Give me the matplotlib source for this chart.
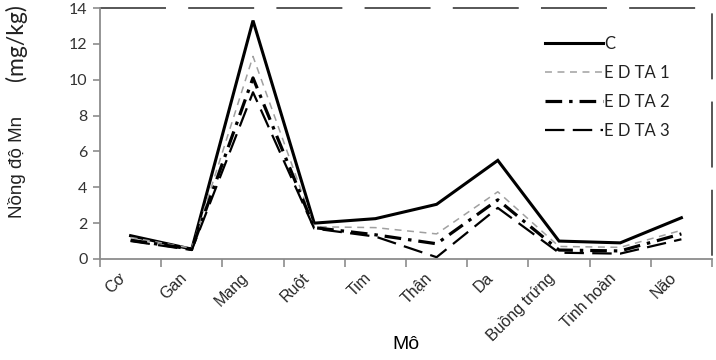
import matplotlib
matplotlib.use("Agg")
import matplotlib.pyplot as plt
import matplotlib.transforms as mtransforms
import numpy as np

# Dữ liệu
mo = ["Cơ", "Gan", "Mang", "Ruột", "Tim", "Thận", "Da", "Buồng trứng", "Tinh hoàn", "Não"]
c_vals = [1.3, 0.55, 13.3, 2.0, 2.25, 3.05, 5.5, 1.0, 0.9, 2.3]
edta1_vals = [1.2, 0.6, 11.3, 1.8, 1.75, 1.4, 3.75, 0.7, 0.65, 1.6]
edta2_vals = [1.05, 0.55, 10.1, 1.75, 1.35, 0.85, 3.3, 0.5, 0.45, 1.4]
edta3_vals = [1.0, 0.5, 9.3, 1.7, 1.25, 0.1, 2.85, 0.35, 0.3, 1.1]
y_ticks = [0, 2, 4, 6, 8, 10, 12, 14]

plt.rcParams['lines.scale_dashes'] = False

fig = plt.figure(figsize=(7.16, 3.6), dpi=100)
ax = fig.add_axes([100 / 716, 101 / 360, 612 / 716, 251 / 360])

x = np.arange(len(mo))
ax.plot(x, c_vals, color="black", lw=2.2, label="C", solid_joinstyle="miter")
ax.plot(x, edta1_vals, color="#a0a0a0", lw=1.1, dashes=(5, 4), label="E D TA 1")
ax.plot(x, edta2_vals, color="black", lw=2.3, dashes=(12, 5, 2.5, 5), label="E D TA 2")
ax.plot(x, edta3_vals, color="black", lw=1.6, dashes=(14, 6), label="E D TA 3")

ax.set_xlim(-0.5, len(mo) - 0.5)
ax.set_ylim(0, 14)
ax.set_yticks(y_ticks)

# vạch chia ở ranh giới, nhãn ở giữa
ax.set_xticks(np.arange(-0.5, len(mo), 1.0))
ax.set_xticklabels([])
ax.set_xticks(x, minor=True)
ax.set_xticklabels(mo, minor=True, rotation=45, ha="right", va="center",
                   rotation_mode="anchor", fontsize=11.5, family="Liberation Sans", color="#262626")
ax.tick_params(axis="x", which="minor", length=0, pad=12)
ax.tick_params(axis="x", which="major", length=6, color="#8c8c8c", width=1.2, direction="out")
offset = mtransforms.ScaledTranslation(-0.07, 0, fig.dpi_scale_trans)
for lab in ax.get_xticklabels(minor=True):
    lab.set_transform(lab.get_transform() + offset)

ax.tick_params(axis="y", length=5, color="#8c8c8c", width=1.2, labelsize=11.5,
               labelcolor="#333333", pad=4)
for lab in ax.get_yticklabels():
    lab.set_family("Lato")

for side in ["top", "right"]:
    ax.spines[side].set_visible(False)
for side in ["left", "bottom"]:
    ax.spines[side].set_color("#8c8c8c")
    ax.spines[side].set_linewidth(1.3)

# viền trên và phải nét đứt
ax.plot([0, 1, 1], [1, 1, 0], transform=ax.transAxes, color="#3a3a3a", lw=1.2,
        dashes=(47.5, 16), clip_on=False)

ax.set_xlabel("Mô", fontsize=14, family="Liberation Sans", labelpad=-6)
fig.text(17 / 716, (360 - 218) / 360, "Nồng độ Mn", rotation=90,
         ha="center", va="bottom", fontsize=13.5, family="Liberation Sans", color="#222222")
fig.text(16 / 716, (360 - 81) / 360, "(mg/kg)", rotation=90,
         ha="center", va="bottom", fontsize=16.5, family="Lato", color="#222222")

leg = ax.legend(loc="upper left", bbox_to_anchor=(0.727, 0.89), frameon=False,
                handlelength=3.5, handletextpad=0.05, labelspacing=0.78,
                borderaxespad=0, borderpad=0, prop={"family": "Lato", "size": 12})
for t in leg.get_texts():
    t.set_color("#222222")

fig.savefig("out.png", dpi=100)
